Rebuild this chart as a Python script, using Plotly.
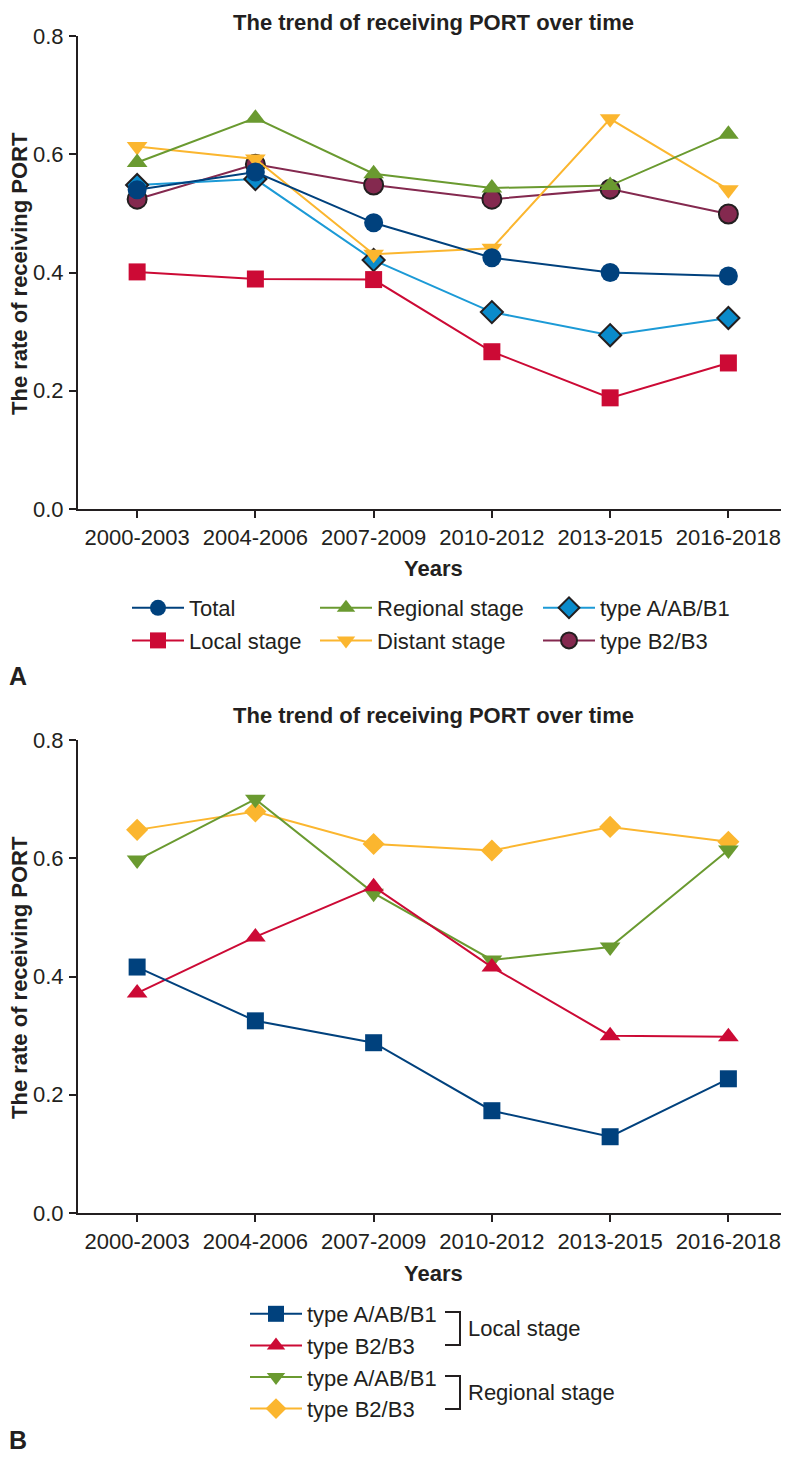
import plotly.graph_objects as go

years = ['2000-2003', '2004-2006', '2007-2009', '2010-2012', '2013-2015', '2016-2018']

# panel A - by stage and by histology
total = [0.540, 0.570, 0.484, 0.425, 0.400, 0.394]
local_stage = [0.401, 0.389, 0.388, 0.266, 0.188, 0.247]
regional_stage = [0.586, 0.661, 0.567, 0.543, 0.547, 0.634]
distant_stage = [0.613, 0.592, 0.431, 0.441, 0.660, 0.540]
type_a_ab_b1 = [0.548, 0.558, 0.421, 0.333, 0.294, 0.323]
type_b2_b3 = [0.524, 0.583, 0.548, 0.524, 0.541, 0.499]

# panel B - histology within stage
local_a_ab_b1 = [0.416, 0.325, 0.288, 0.173, 0.129, 0.227]
local_b2_b3 = [0.372, 0.467, 0.552, 0.416, 0.300, 0.298]
regional_a_ab_b1 = [0.597, 0.700, 0.541, 0.428, 0.450, 0.614]
regional_b2_b3 = [0.648, 0.679, 0.624, 0.613, 0.653, 0.628]

# the page body adds an 8px margin, so the figure is shrunk by that much
OX, OY = 8, 8
FW, FH = 789 - OX, 1459 - OY
FONT = 'Liberation Sans, Arial, sans-serif'
INK = '#231F20'

NAVY = '#00417D'
RED = '#CC0A35'
GREEN = '#6A9A30'
YELLOW = '#FBB62F'
SKY = '#0A8BCB'
MAROON = '#84294F'


def px(x):
    return (x - OX) / FW


def py(y):
    return 1 - (y - OY) / FH


fig = go.Figure()


def add_line(y, name, color, symbol, size, xa, ya, legend, rank, outline=None, line_color=None):
    fig.add_trace(go.Scatter(
        x=years, y=y, name=name, mode='lines+markers',
        line=dict(color=line_color or color, width=2),
        marker=dict(symbol=symbol, size=size, color=color,
                    line=dict(color=outline or color, width=2 if outline else 0)),
        xaxis=xa, yaxis=ya, legend=legend, legendrank=rank,
        legendgroup='{}-{}'.format(legend, rank),
    ))


# panel A, drawn bottom to top
add_line(type_b2_b3, 'type B2/B3', MAROON, 'circle', 19, 'x', 'y', 'legend3', 2, outline=INK)
add_line(type_a_ab_b1, 'type A/AB/B1', SKY, 'diamond', 17, 'x', 'y', 'legend3', 1, outline=INK, line_color='#1C9AD6')
add_line(distant_stage, 'Distant stage', YELLOW, 'triangle-down', 18, 'x', 'y', 'legend2', 2)
add_line(regional_stage, 'Regional stage', GREEN, 'triangle-up', 18, 'x', 'y', 'legend2', 1)
add_line(local_stage, 'Local stage', RED, 'square', 17, 'x', 'y', 'legend', 2)
add_line(total, 'Total', NAVY, 'circle', 19, 'x', 'y', 'legend', 1)

# panel B
add_line(regional_b2_b3, 'type B2/B3', YELLOW, 'diamond', 17, 'x2', 'y2', 'legend4', 4)
add_line(regional_a_ab_b1, 'type A/AB/B1', GREEN, 'triangle-down', 18, 'x2', 'y2', 'legend4', 3)
add_line(local_b2_b3, 'type B2/B3', RED, 'triangle-up', 18, 'x2', 'y2', 'legend4', 2)
add_line(local_a_ab_b1, 'type A/AB/B1', NAVY, 'square', 17, 'x2', 'y2', 'legend4', 1)

axis_common = dict(
    showline=True, linecolor=INK, linewidth=2, automargin=False,
    ticks='outside', ticklen=7, tickwidth=2, tickcolor=INK,
    showgrid=False, zeroline=False, fixedrange=True,
    tickfont=dict(family=FONT, size=22, color=INK),
)
x_common = dict(axis_common, type='category', categoryarray=years, range=[-0.5, 5.5],
                domain=[px(78), px(787.5)], ticklabelstandoff=1)
y_common = dict(axis_common, range=[0, 0.8], dtick=0.2, tick0=0, tickformat='.1f',
                ticklabelstandoff=1)

legend_common = dict(
    orientation='v', xanchor='left', yanchor='top', bgcolor='rgba(0,0,0,0)',
    font=dict(family=FONT, size=22, color=INK), itemwidth=52,
    traceorder='grouped', tracegroupgap=1, itemclick=False, itemdoubleclick=False,
)

fig.update_layout(
    width=FW, height=FH, autosize=False,
    margin=dict(l=0, r=0, t=0, b=0, autoexpand=False),
    paper_bgcolor='white', plot_bgcolor='white',
    font=dict(family=FONT, color=INK),
    xaxis=dict(x_common, anchor='y'),
    yaxis=dict(y_common, anchor='x', domain=[py(509), py(36)]),
    xaxis2=dict(x_common, anchor='y2'),
    yaxis2=dict(y_common, anchor='x2', domain=[py(1213), py(740)]),
    legend=dict(legend_common, x=px(127), y=py(587)),
    legend2=dict(legend_common, x=px(315), y=py(587)),
    legend3=dict(legend_common, x=px(538), y=py(587)),
    legend4=dict(legend_common, x=px(245), y=py(1293), tracegroupgap=0),
)


def label(text, x, y, size, **kw):
    d = dict(text=text, x=px(x), y=py(y), xref='paper', yref='paper', showarrow=False,
             xanchor='center', yanchor='middle', borderpad=0, font=dict(size=size))
    d.update(kw)
    return d


title = 'The trend of receiving PORT over time'
ann = []
for ty, yt, yc, lab, ly in [(22, 568, 274, 'A', 676), (716, 1273, 978, 'B', 1440)]:
    ann.append(label('<b>' + title + '</b>', 433, ty, 22))
    ann.append(label('<b>Years</b>', 433, yt, 22))
    ann.append(label('<b>The rate of receiving PORT</b>', 19, yc, 22, textangle=-90))
    ann.append(label('<b>' + lab + '</b>', 18, ly, 25))

# group labels for the panel B legend
ann.append(label('Local stage', 467, 1328, 22, xanchor='left'))
ann.append(label('Regional stage', 467, 1392, 22, xanchor='left'))

shapes = []
for top, bot in [(1312, 1345), (1376, 1409)]:
    shapes.append(dict(
        type='path', xref='paper', yref='paper',
        path='M {a},{t} L {b},{t} L {b},{u} L {a},{u}'.format(a=px(445), b=px(460), t=py(top), u=py(bot)),
        line=dict(color=INK, width=2),
    ))

fig.update_layout(annotations=ann, shapes=shapes)

fig.write_html('out.html')
